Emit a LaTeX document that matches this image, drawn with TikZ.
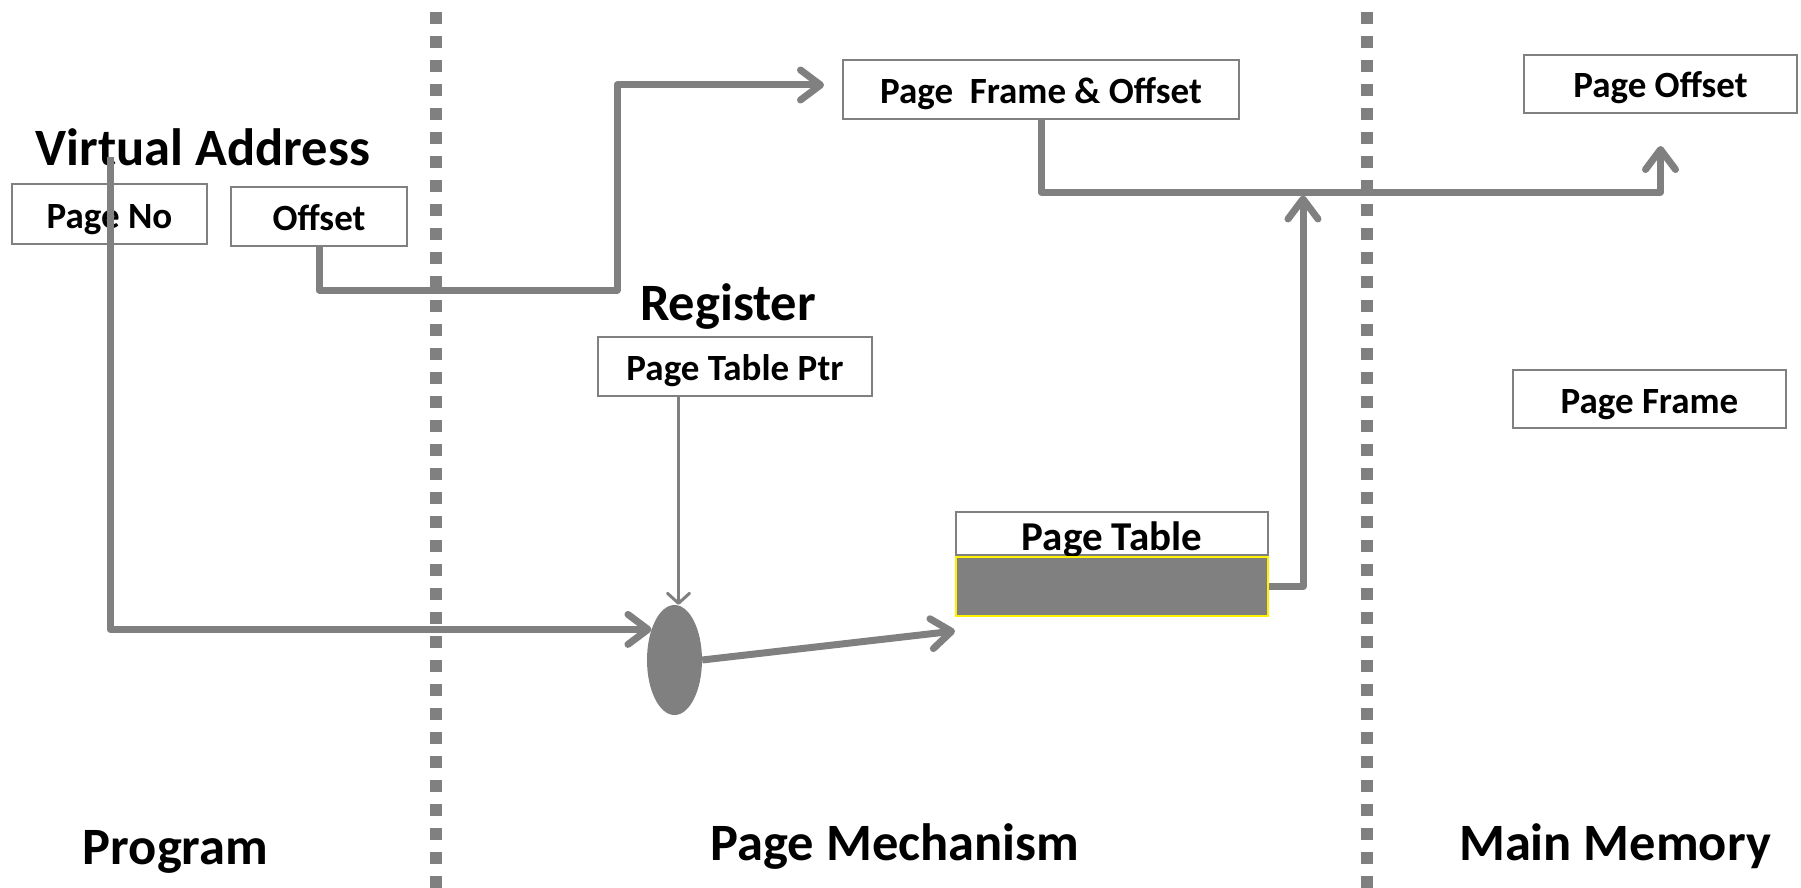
\documentclass[tikz,border=0pt]{standalone}
\usepackage{fontspec}
\setmainfont{Carlito}
\usetikzlibrary{arrows.meta,shapes.geometric}

\begin{document}
\begin{tikzpicture}[x=1pt, y=-1pt,
  box/.style={draw=gray, line width=2pt, fill=white, inner sep=0pt, text height=34pt, text depth=6pt, font=\fontsize{37}{40}\selectfont\bfseries},
  title/.style={anchor=base, inner sep=0pt, font=\fontsize{52.5}{60}\selectfont\bfseries},
  flow/.style={draw=gray, line width=7pt, line join=round, -{Straight Barb[length=20pt, width=30pt, round]}},
  divider/.style={draw=gray, line width=12pt, dash pattern=on 12pt off 12pt}]
\useasboundingbox (0,0) rectangle (1801,888);
\draw [divider] (436,12) -- (436,888);
\draw [divider] (1367,12) -- (1367,888);

\node [title] (va) at (203,165) {Virtual Address};
\node [box, minimum width=195pt, minimum height=60pt] (pageno) at (109.5,214) {Page No};
\node [box, minimum width=176pt, minimum height=59pt] (offset) at (319,216.5) {Offset};
\node [title] (reg) at (728,320) {Register};
\node [box, minimum width=274pt, minimum height=59pt] (ptr) at (735,366.5) {Page Table Ptr};
\node [box, minimum width=396pt, minimum height=59pt] (pfo) at (1041,89.5) {Page\ \ Frame \& Offset};
\node [box, minimum width=273pt, minimum height=58pt] (poff) at (1660.5,84) {Page Offset};
\node [box, minimum width=273pt, minimum height=58pt] (pframe) at (1649.5,399) {Page Frame};
\node [box, minimum width=312pt, minimum height=43pt, text height=34pt, text depth=1pt, font=\fontsize{41}{44}\selectfont\bfseries] (pthead) at (1112,533.5) {Page Table};
\node [draw=yellow, line width=2pt, fill=gray, minimum width=312pt, minimum height=59pt, inner sep=0pt, anchor=north] (ptrow) at (pthead.south) {};
\node [ellipse, fill=gray, minimum width=55pt, minimum height=110pt, inner sep=0pt] (mux) at (674.5,660) {};

\node [title] (prog) at (175.5,864) {Program};
\node [title] (mech) at (895,860) {Page Mechanism};
\node [title] (mem) at (1615,860) {Main Memory};

% connectors
\coordinate (vastart) at (110,157);
\coordinate (offbend) at (617,290);
\coordinate (bus) at (1303,192);
\draw [flow] (vastart) |- (mux.127);
\draw [flow, line width=3pt, -{Straight Barb[length=10pt, width=22pt, round]}] ([xshift=4pt]mux.north |- ptr.south) -- ([xshift=4pt]mux.north);
\draw [flow] (mux.east) -- ([yshift=-14pt]ptrow.south west);
\draw [flow] (offset.south) |- (offbend) |- ([xshift=-18pt, yshift=4.5pt]pfo.west);
\draw [flow] (pfo.south) |- (bus) -| ([yshift=-32pt]poff.south);
\draw [flow] (ptrow.east) -| ([yshift=-3.5pt]bus);
\end{tikzpicture}
\end{document}
